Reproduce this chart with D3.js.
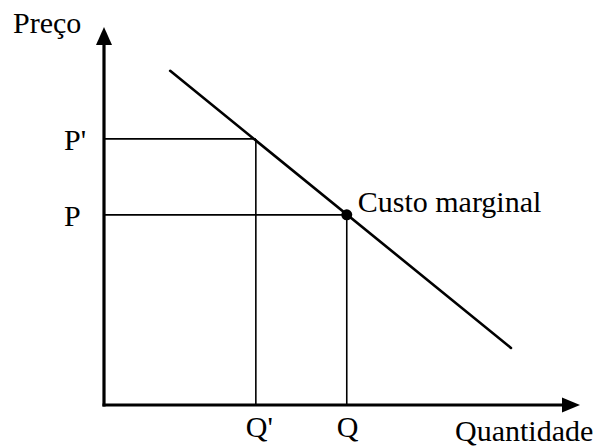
<!DOCTYPE html>
<html>
<head>
<meta charset="utf-8">
<script src="https://cdn.jsdelivr.net/npm/d3@7"></script>
<style>
  body { margin: 0; background: #fff; }
  svg { display: block; }
  text { font-family: "Liberation Serif", "Times New Roman", serif; fill: #000; }
</style>
</head>
<body>
<div id="chart"></div>
<script>
// curve "Custo marginal" endpoints (quantity, price)
const curvePoints = [
  { q: 1.39, p: 8.84 },
  { q: 8.55, p: 1.51 },
];
// guide points on the curve
const guides = [
  { q: 3.19, p: 7.04, qLabel: "Q'", pLabel: "P'", dot: false },
  { q: 5.10, p: 5.03, qLabel: "Q", pLabel: "P", dot: true },
];
const axisLabels = { x: "Quantidade", y: "Preço" };
const curveLabel = "Custo marginal";

const width = 594;
const height = 448;
const origin = { x: 104, y: 405 };
const x = d3.scaleLinear().domain([0, 10]).range([origin.x, 580]);
const y = d3.scaleLinear().domain([0, 10]).range([origin.y, 27]);

const svg = d3.select("#chart").append("svg").attr("width", width).attr("height", height);

// guide lines
const g = svg.append("g").attr("stroke", "#000").attr("stroke-width", 1.6);
g.selectAll("line.h")
  .data(guides)
  .join("line")
  .attr("class", "h")
  .attr("x1", x(0))
  .attr("x2", (d) => x(d.q))
  .attr("y1", (d) => y(d.p))
  .attr("y2", (d) => y(d.p));
g.selectAll("line.v")
  .data(guides)
  .join("line")
  .attr("class", "v")
  .attr("x1", (d) => x(d.q))
  .attr("x2", (d) => x(d.q))
  .attr("y1", (d) => y(d.p))
  .attr("y2", y(0));

// curve
svg
  .append("path")
  .datum(curvePoints)
  .attr("d", d3.line().x((d) => x(d.q)).y((d) => y(d.p)))
  .attr("fill", "none")
  .attr("stroke", "#000")
  .attr("stroke-width", 2.6)
  .attr("stroke-linecap", "round");

// axes
svg
  .append("line")
  .attr("x1", x(0))
  .attr("x2", x(0))
  .attr("y1", y(0) + 1.5)
  .attr("y2", y(10) + 12)
  .attr("stroke", "#000")
  .attr("stroke-width", 3.2);
svg
  .append("line")
  .attr("x1", x(0) - 1.5)
  .attr("x2", x(10) - 12)
  .attr("y1", y(0))
  .attr("y2", y(0))
  .attr("stroke", "#000")
  .attr("stroke-width", 3.2);

const ay = y(10), ax = x(10);
svg
  .append("path")
  .attr("d", `M${x(0)},${ay} L${x(0) - 8},${ay + 18} L${x(0) + 8},${ay + 18} Z`)
  .attr("fill", "#000");
svg
  .append("path")
  .attr("d", `M${ax},${y(0)} L${ax - 18},${y(0) - 7.5} L${ax - 18},${y(0) + 7.5} Z`)
  .attr("fill", "#000");

// dot
svg
  .selectAll("circle")
  .data(guides.filter((d) => d.dot))
  .join("circle")
  .attr("cx", (d) => x(d.q))
  .attr("cy", (d) => y(d.p))
  .attr("r", 5.5)
  .attr("fill", "#000");

// labels
const fs = 30;
svg.selectAll("text.pl")
  .data(guides)
  .join("text")
  .attr("class", "pl")
  .attr("x", x(0) - 40)
  .attr("y", (d) => y(d.p) + 11)
  .attr("font-size", fs)
  .text((d) => d.pLabel);
svg.selectAll("text.ql")
  .data(guides)
  .join("text")
  .attr("class", "ql")
  .attr("x", (d) => x(d.q) - 10)
  .attr("y", y(0) + 32)
  .attr("font-size", fs)
  .text((d) => d.qLabel);

svg.append("text").attr("x", 13).attr("y", 33).attr("font-size", fs).text(axisLabels.y);
svg.append("text").attr("x", 455).attr("y", y(0) + 36).attr("font-size", fs).text(axisLabels.x);
svg
  .append("text")
  .attr("x", x(guides[1].q) + 11)
  .attr("y", y(guides[1].p) - 3)
  .attr("font-size", fs)
  .text(curveLabel);
</script>
</body>
</html>
